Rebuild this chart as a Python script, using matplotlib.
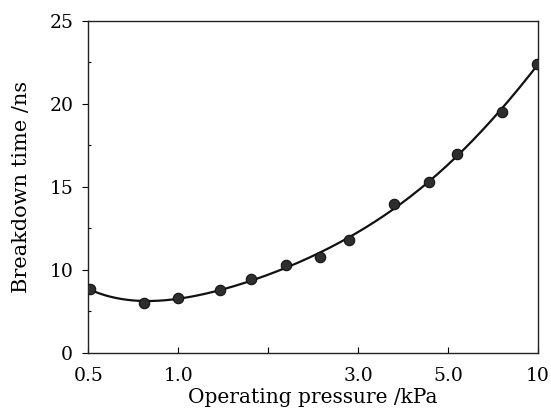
import numpy as np
import matplotlib
matplotlib.use("Agg")
import matplotlib.pyplot as plt

# ---- data ----
pressure_kpa = [0.51, 0.81, 1.0, 1.46, 1.81, 2.2, 2.58, 2.9, 3.79, 4.58, 5.5, 8.0, 9.95]
breakdown_ns = [7.67, 5.99, 6.66, 7.59, 8.92, 10.28, 10.77, 11.77, 13.98, 15.28, 16.99, 19.5, 22.39]

x_ticks = [0.5, 1.0, 2.0, 3.0, 5.0, 10.0]
x_tick_labels = ["0.5", "1.0", "", "3.0", "5.0", "10"]
y_ticks = [0, 10, 15, 20, 25]
y_tick_labels = ["0", "10", "15", "20", "25"]


def piecewise(knots):
    k = np.asarray(knots, float)
    p = np.arange(len(k), dtype=float)

    def fwd(v):
        v = np.asarray(v, float)
        out = np.interp(v, k, p)
        out = np.where(v < k[0], (v - k[0]) / (k[1] - k[0]), out)
        out = np.where(v > k[-1], p[-1] + (v - k[-1]) / (k[-1] - k[-2]), out)
        return out

    def inv(q):
        q = np.asarray(q, float)
        out = np.interp(q, p, k)
        out = np.where(q < 0, k[0] + q * (k[1] - k[0]), out)
        out = np.where(q > p[-1], k[-1] + (q - p[-1]) * (k[-1] - k[-2]), out)
        return out

    return fwd, inv


xf, xi = piecewise(x_ticks)
yf, yi = piecewise(y_ticks)

plt.rcParams["font.family"] = ["DejaVu Serif"]

fig = plt.figure(figsize=(5.51, 4.09), dpi=100)
ax = fig.add_axes([0.1606, 0.137, 0.8158, 0.8124])
ax.set_xscale("function", functions=(xf, xi))
ax.set_yscale("function", functions=(yf, yi))

# smooth trend curve (polynomial fit in display-position space)
px = xf(pressure_kpa)
py = yf(breakdown_ns)
coef = np.polyfit(px, py, 5)
xs = np.linspace(px[0], px[-1], 400)
ys = np.polyval(coef, xs)
ax.plot(xi(xs), yi(ys), color="#111111", lw=1.6, zorder=2)
ax.plot(pressure_kpa, breakdown_ns, "o", ms=7.5, mfc="#2e2e2e", mec="#111111",
        mew=0.8, zorder=3)

ax.set_xlim(0.5, 10)
ax.set_ylim(0, 25)
ax.set_xticks(x_ticks)
ax.set_xticklabels(x_tick_labels)
ax.set_yticks(y_ticks)
ax.set_yticklabels(y_tick_labels)
ax.xaxis.set_minor_locator(matplotlib.ticker.NullLocator())
ymid = [yi(v + 0.5) for v in range(len(y_ticks) - 1)]
ax.set_yticks(ymid, minor=True)

ax.tick_params(axis="x", which="major", direction="in", length=4, width=0.8,
               labelsize=13.5, pad=10)
ax.tick_params(axis="y", which="major", direction="out", length=4, width=0.8,
               labelsize=13.5, pad=7)
ax.tick_params(axis="y", which="minor", direction="in", length=2.5, width=0.8)

for s in ax.spines.values():
    s.set_linewidth(1.0)
    s.set_color("#222222")

ax.set_xlabel("Operating pressure /kPa", fontsize=14.5, labelpad=2)
ax.set_ylabel("Breakdown time /ns", fontsize=15, labelpad=13)

fig.savefig("out.png", dpi=100)
